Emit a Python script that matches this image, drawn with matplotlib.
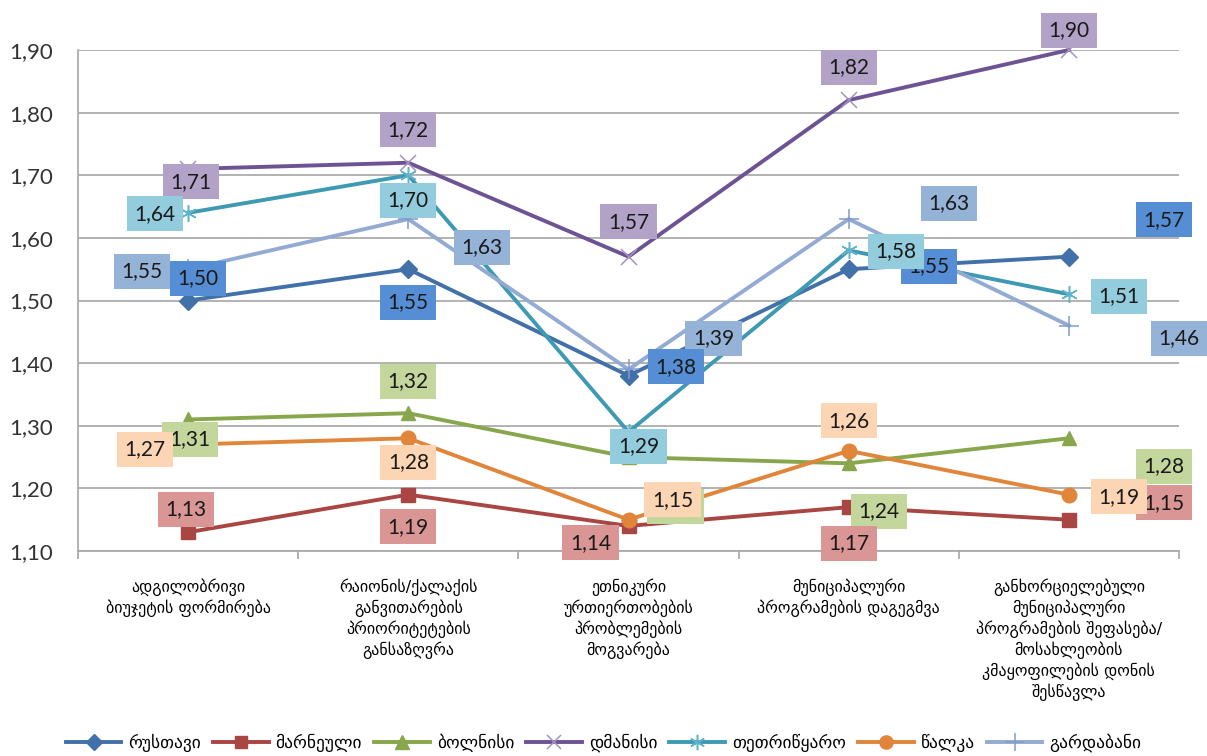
import matplotlib
matplotlib.use("Agg")
import matplotlib.pyplot as plt
from matplotlib.lines import Line2D
from matplotlib.ticker import FuncFormatter

# Survey topics (x categories)
categories = [
    "ადგილობრივი\nბიუჯეტის ფორმირება",
    "რაიონის/ქალაქის\nგანვითარების\nპრიორიტეტების\nგანსაზღვრა",
    "ეთნიკური\nურთიერთობების\nპრობლემების\nმოგვარება",
    "მუნიციპალური\nპროგრამების დაგეგმვა",
    "განხორციელებული\nმუნიციპალური\nპროგრამების შეფასება/\nმოსახლეობის\nკმაყოფილების დონის\nშესწავლა",
]

# Municipalities (series)
series_names = ["რუსთავი", "მარნეული", "ბოლნისი", "დმანისი", "თეთრიწყარო", "წალკა", "გარდაბანი"]

rustavi = [1.50, 1.55, 1.38, 1.55, 1.57]
marneuli = [1.13, 1.19, 1.14, 1.17, 1.15]
bolnisi = [1.31, 1.32, 1.25, 1.24, 1.28]
dmanisi = [1.71, 1.72, 1.57, 1.82, 1.90]
tetritskaro = [1.64, 1.70, 1.29, 1.58, 1.51]
tsalka = [1.27, 1.28, 1.15, 1.26, 1.19]
gardabani = [1.55, 1.63, 1.39, 1.63, 1.46]

series_values = [rustavi, marneuli, bolnisi, dmanisi, tetritskaro, tsalka, gardabani]

y_ticks = [1.10, 1.20, 1.30, 1.40, 1.50, 1.60, 1.70, 1.80, 1.90]

# Styling
line_colors = ["#4270A8", "#A94542", "#88A64C", "#6E5394", "#3E9AB2", "#E0853A", "#93AAD2"]
marker_colors = ["#4270A8", "#A94542", "#88A64C", "#A593C4", "#5FB4CB", "#E0853A", "#7F9CCB"]
box_colors = ["#558ED5", "#D99694", "#C3D69B", "#B3A2C7", "#93CDDD", "#FCD5B5", "#95B3D7"]
markers = ["D", "s", "^", "x", (6, 2, 0), "o", "+"]
marker_sizes = [9, 9.5, 10.5, 11, 12, 10.5, 14]
marker_edge = [1, 1, 1, 1.1, 1.1, 1, 1.1]
# stacking order of the value boxes (higher is drawn on top)
label_layer = [14, 13, 10, 12, 15, 16, 11]

# Data-label offsets in pixels (dx, dy), per series and category
label_offsets = [
    [(10, 22), (0, -33), (47, 9), (80, 3), (95, 37)],
    [(-2, 23), (0, -32), (-38, -17), (0, -36), (95, 17)],
    [(2, -20), (0, 32), (47, -49), (30, -48), (95, -28)],
    [(3, -13), (0, 33), (0, 35), (0, 33), (0, 20)],
    [(-33, -1), (0, -25), (10, -14), (47, -1), (50, -2)],
    [(-43, -5), (0, -24), (44, 20), (0, 30), (50, -2)],
    [(-46, -2), (74, -28), (85, 31), (100, 16), (110, -13)],
]

plt.rcParams["font.family"] = ["DejaVu Sans"]

fig = plt.figure(figsize=(12.07, 7.56), dpi=100)
ax = fig.add_axes([78 / 1207, 1 - 551 / 756, (1179 - 78) / 1207, (551 - 50) / 756])

x = list(range(len(categories)))
for i, (name, vals) in enumerate(zip(series_names, series_values)):
    ax.plot(x, vals, color=line_colors[i], lw=2.8, marker=markers[i],
            ms=marker_sizes[i], mew=marker_edge[i], mfc=marker_colors[i],
            mec=marker_colors[i], zorder=3 + i * 0.1, label=name, clip_on=False)

for i, vals in enumerate(series_values):
    for j, v in enumerate(vals):
        dx, dy = label_offsets[i][j]
        ax.annotate(f"{v:.2f}".replace(".", ","), (j, v), xytext=(dx, dy),
                    textcoords="offset pixels", ha="center", va="center",
                    fontsize=15, family="Lato", color="#1a1a1a",
                    bbox=dict(boxstyle="square,pad=0.36", fc=box_colors[i], ec="none"),
                    zorder=label_layer[i], annotation_clip=False)

ax.set_xlim(-0.5, len(categories) - 0.5)
ax.set_ylim(1.10, 1.90)
ax.set_yticks(y_ticks)
ax.yaxis.set_major_formatter(FuncFormatter(lambda v, p: f"{v:.2f}".replace(".", ",")))
ax.tick_params(axis="y", length=0, labelsize=16, pad=18, colors="#333333")
for lab in ax.get_yticklabels():
    lab.set_family("Lato")
ax.grid(axis="y", color="#A6A6A6", lw=1.2)
ax.set_axisbelow(True)

# Tick marks at category boundaries, labels at centres
ax.set_xticks([k - 0.5 for k in range(len(categories) + 1)])
ax.set_xticklabels([])
ax.tick_params(axis="x", which="major", length=6, width=1.2, color="#A6A6A6", direction="out")
ax.set_xticks(x, minor=True)
ax.set_xticklabels(categories, minor=True, fontsize=11.5, linespacing=1.25, va="top")
ax.tick_params(axis="x", which="minor", length=0, pad=20)

for side in ("top", "right"):
    ax.spines[side].set_visible(False)
for side in ("left", "bottom"):
    ax.spines[side].set_color("#A6A6A6")
    ax.spines[side].set_linewidth(1.2)

handles = [Line2D([0], [0], color=line_colors[i], lw=2.8, marker=markers[i],
                  ms=marker_sizes[i] - 1, mew=marker_edge[i], mfc=marker_colors[i],
                  mec=marker_colors[i])
           for i in range(len(series_names))]
fig.legend(handles, series_names, loc="center", bbox_to_anchor=(0.5, 1 - 743 / 756),
           ncol=7, frameon=False, fontsize=12.5, handlelength=3.2, columnspacing=0.7,
           handletextpad=0.4)

fig.savefig("out.png", dpi=100, facecolor="white")
